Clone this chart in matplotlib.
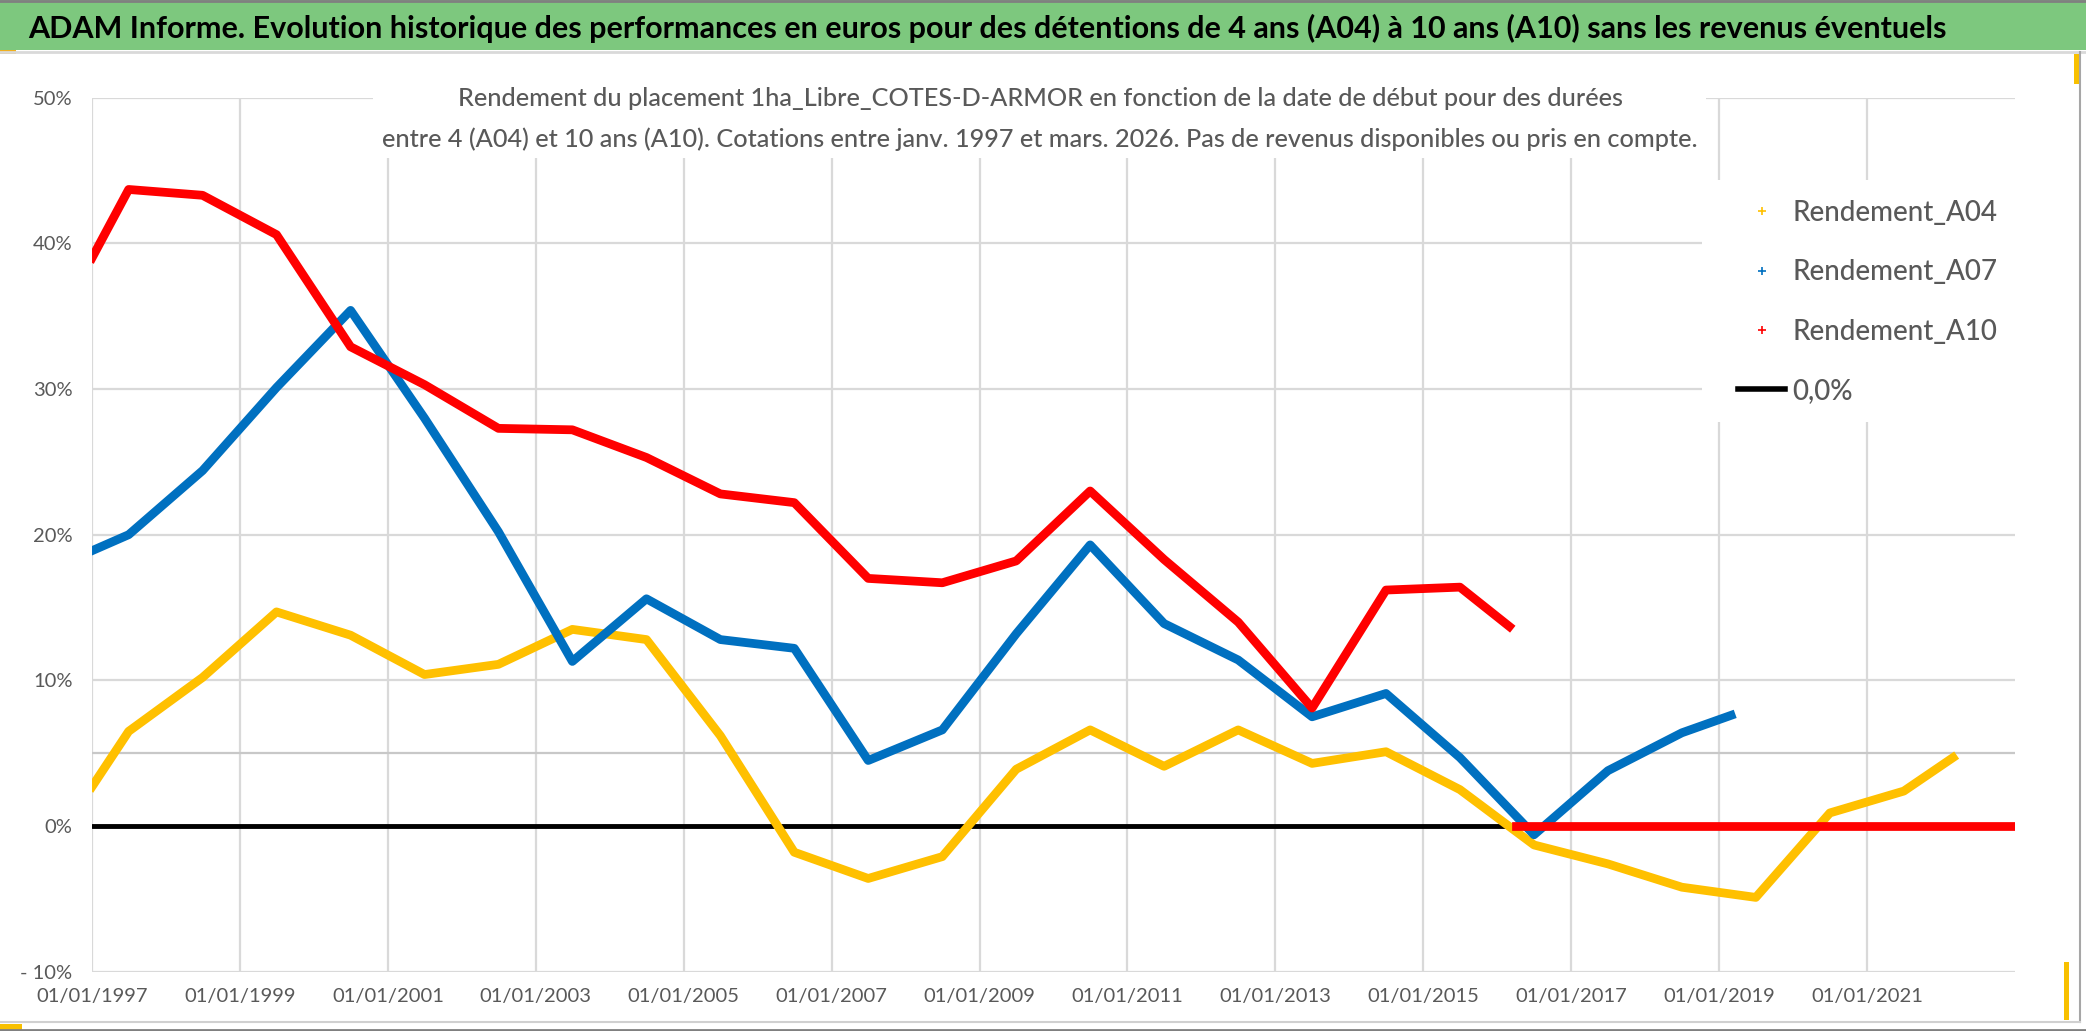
import numpy as np
import matplotlib
matplotlib.use("Agg")
import matplotlib.pyplot as plt
from matplotlib.lines import Line2D
from matplotlib.patches import Rectangle

plt.rcParams['font.family'] = ['Lato', 'DejaVu Sans']

# dates de debut : janvier 1997 puis un point par an (juillet)
dates = ['1997-01-01', '1997-07-01', '1998-07-01', '1999-07-01', '2000-07-01',
         '2001-07-01', '2002-07-01', '2003-07-01', '2004-07-01', '2005-07-01',
         '2006-07-01', '2007-07-01', '2008-07-01', '2009-07-01', '2010-07-01',
         '2011-07-01', '2012-07-01', '2013-07-01', '2014-07-01', '2015-07-01',
         '2016-07-01', '2017-07-01', '2018-07-01', '2019-07-01', '2020-07-01',
         '2021-07-01']

dates_a04 = dates + ['2022-03-01']
rendement_a04 = [2.7, 6.5, 10.2, 14.7, 13.1, 10.4, 11.1, 13.5, 12.8, 6.2,
                 -1.8, -3.6, -2.1, 3.9, 6.6, 4.1, 6.6, 4.3, 5.1, 2.5,
                 -1.3, -2.6, -4.2, -4.9, 0.9, 2.4, 4.7]

dates_a07 = dates[:23] + ['2019-03-01']
rendement_a07 = [18.9, 20.0, 24.4, 30.1, 35.4, 28.0, 20.2, 11.3, 15.6, 12.8,
                 12.2, 4.5, 6.6, 13.2, 19.3, 13.9, 11.4, 7.5, 9.1, 4.7,
                 -0.6, 3.8, 6.4, 7.6]

dates_a10 = dates[:20] + ['2016-03-01']
rendement_a10 = [39.0, 43.7, 43.3, 40.6, 32.9, 30.3, 27.3, 27.2, 25.3, 22.8,
                 22.2, 17.0, 16.7, 18.2, 23.0, 18.3, 14.0, 8.1, 16.2, 16.4,
                 13.7]
# A10 non disponible ensuite -> 0
dates_a10_nul = ['2016-04-01', '2023-01-01']
rendement_a10_nul = [0.0, 0.0]

dates_zero = ['1997-01-01', '2023-01-01']
valeurs_zero = [0.0, 0.0]
ligne_5 = 5.0

x_ticks = ['1997-01-01', '1999-01-01', '2001-01-01', '2003-01-01', '2005-01-01',
           '2007-01-01', '2009-01-01', '2011-01-01', '2013-01-01', '2015-01-01',
           '2017-01-01', '2019-01-01', '2021-01-01']
x_tick_labels = ['01/01/1997', '01/01/1999', '01/01/2001', '01/01/2003',
                 '01/01/2005', '01/01/2007', '01/01/2009', '01/01/2011',
                 '01/01/2013', '01/01/2015', '01/01/2017', '01/01/2019',
                 '01/01/2021']
y_ticks = [-10, 0, 10, 20, 30, 40, 50]
y_tick_labels = ['- 10%', '0%', '10%', '20%', '30%', '40%', '50%']

labels = ['Rendement_A04', 'Rendement_A07', 'Rendement_A10', '0,0%']

titre = ("ADAM Informe. Evolution historique des performances en euros pour des "
         "détentions de 4 ans (A04) à 10 ans (A10) sans les revenus éventuels")
sous_titre_1 = ("Rendement du placement 1ha_Libre_COTES-D-ARMOR en fonction de la "
                "date de début pour des durées")
sous_titre_2 = ("entre 4 (A04) et 10 ans (A10). Cotations entre janv. 1997 et mars. "
                "2026. Pas de revenus disponibles ou pris en compte.")

c_a04 = '#FFC000'
c_a07 = '#0070C0'
c_a10 = '#FF0000'
gris_texte = '#595959'
gris_grille = '#D9D9D9'

W, H = 2086, 1031


def fx(px):
    return px / W


def fy(py):
    return 1 - py / H


def d64(lst):
    return np.array(lst, dtype='datetime64[D]')


fig = plt.figure(figsize=(W / 100, H / 100), dpi=100)
fig.patch.set_facecolor('white')

# bandeau vert du titre
fig.add_artist(Rectangle((0, fy(50)), 1, 50 / H, transform=fig.transFigure,
                         facecolor='#7DC87E', edgecolor='none', zorder=0))
fig.add_artist(Line2D([0, 1], [fy(1), fy(1)], transform=fig.transFigure,
                      color='#808080', lw=2))
fig.add_artist(Line2D([0, 1], [fy(52), fy(52)], transform=fig.transFigure,
                      color='#D9D9D9', lw=2))
fig.text(fx(28), fy(38), titre, fontsize=22, fontweight='bold', color='black',
         ha='left', va='baseline')

ax = fig.add_axes([fx(92), fy(971.7), (2015 - 92) / W, (971.7 - 97.7) / H])
ax.set_axisbelow(True)
for s in ax.spines.values():
    s.set_visible(False)

lw_serie = 6.3
ax.axhline(ligne_5, color='#C8C8C8', lw=1.6, zorder=1)
ax.plot(d64(dates_zero), valeurs_zero, color='black', lw=3.5, zorder=2,
        solid_capstyle='round')
ax.plot(d64(dates_a04), rendement_a04, color=c_a04, lw=lw_serie, zorder=3,
        solid_joinstyle='round')
ax.plot(d64(dates_a07), rendement_a07, color=c_a07, lw=lw_serie, zorder=4,
        solid_joinstyle='round')
ax.plot(d64(dates_a10), rendement_a10, color=c_a10, lw=lw_serie, zorder=5,
        solid_joinstyle='round')
ax.plot(d64(dates_a10_nul), rendement_a10_nul, color=c_a10, lw=lw_serie, zorder=5)

ax.set_xlim(np.datetime64('1997-01-01'), np.datetime64('2023-01-01'))
ax.set_ylim(-10, 50)
ax.set_xticks(d64(x_ticks))
ax.set_xticklabels(x_tick_labels)
ax.set_yticks(y_ticks)
ax.set_yticklabels(y_tick_labels)
ax.tick_params(axis='both', length=0, labelsize=14.5, labelcolor=gris_texte)
ax.tick_params(axis='x', pad=12)
ax.tick_params(axis='y', pad=14)
ax.grid(True, color=gris_grille, lw=1.6)

# fonds blancs du sous-titre et de la legende (masquent la grille)
ax.add_patch(Rectangle((fx(373), fy(158)), fx(1706) - fx(373), 100 / H,
                       transform=fig.transFigure, facecolor='white',
                       edgecolor='none', zorder=1, clip_on=False))
ax.add_patch(Rectangle((fx(1702), fy(422)), fx(2060) - fx(1702), (422 - 180) / H,
                       transform=fig.transFigure, facecolor='white',
                       edgecolor='none', zorder=1, clip_on=False))

fig.text(fx(1040), fy(105.7), sous_titre_1, fontsize=18.2, fontweight='medium',
         color=gris_texte, ha='center', va='baseline')
fig.text(fx(1040), fy(147), sous_titre_2, fontsize=18.2, fontweight='medium',
         color=gris_texte, ha='center', va='baseline')

handles = [
    Line2D([], [], color=c_a04, marker='+', ls='none', ms=6, mew=1.2),
    Line2D([], [], color=c_a07, marker='+', ls='none', ms=6, mew=1.2),
    Line2D([], [], color=c_a10, marker='+', ls='none', ms=6, mew=1.2),
    Line2D([], [], color='black', lw=4),
]
leg = ax.legend(handles, labels, loc='upper left',
                bbox_to_anchor=(fx(1738), fy(200)), bbox_transform=fig.transFigure,
                frameon=False, handlelength=1.7, handletextpad=0.25,
                labelspacing=1.2, borderpad=0, borderaxespad=0,
                prop={'size': 20, 'weight': 'medium'})
for t in leg.get_texts():
    t.set_color(gris_texte)

# cadre du graphique et reperes de selection
fig.add_artist(Line2D([fx(2080), fx(2080)], [fy(52), fy(1022)],
                      transform=fig.transFigure, color='#A6A6A6', lw=1.5))
fig.add_artist(Line2D([0, fx(2080)], [fy(1022), fy(1022)],
                      transform=fig.transFigure, color='#D0D0D0', lw=1.5))
fig.add_artist(Line2D([0, 1], [fy(1030), fy(1030)],
                      transform=fig.transFigure, color='#808080', lw=2))
fig.add_artist(Rectangle((0, fy(54)), fx(16), 4 / H, transform=fig.transFigure,
                         facecolor='#F0B020', edgecolor='none'))
fig.add_artist(Rectangle((0, fy(1030)), fx(22), 6 / H, transform=fig.transFigure,
                         facecolor='#F8C000', edgecolor='none'))
fig.add_artist(Rectangle((fx(2074), fy(84)), fx(6), 30 / H, transform=fig.transFigure,
                         facecolor='#F8C000', edgecolor='none'))
fig.add_artist(Rectangle((fx(2064), fy(1020)), fx(5), 58 / H, transform=fig.transFigure,
                         facecolor='#F8C000', edgecolor='none'))

fig.savefig('out.png', dpi=100)
